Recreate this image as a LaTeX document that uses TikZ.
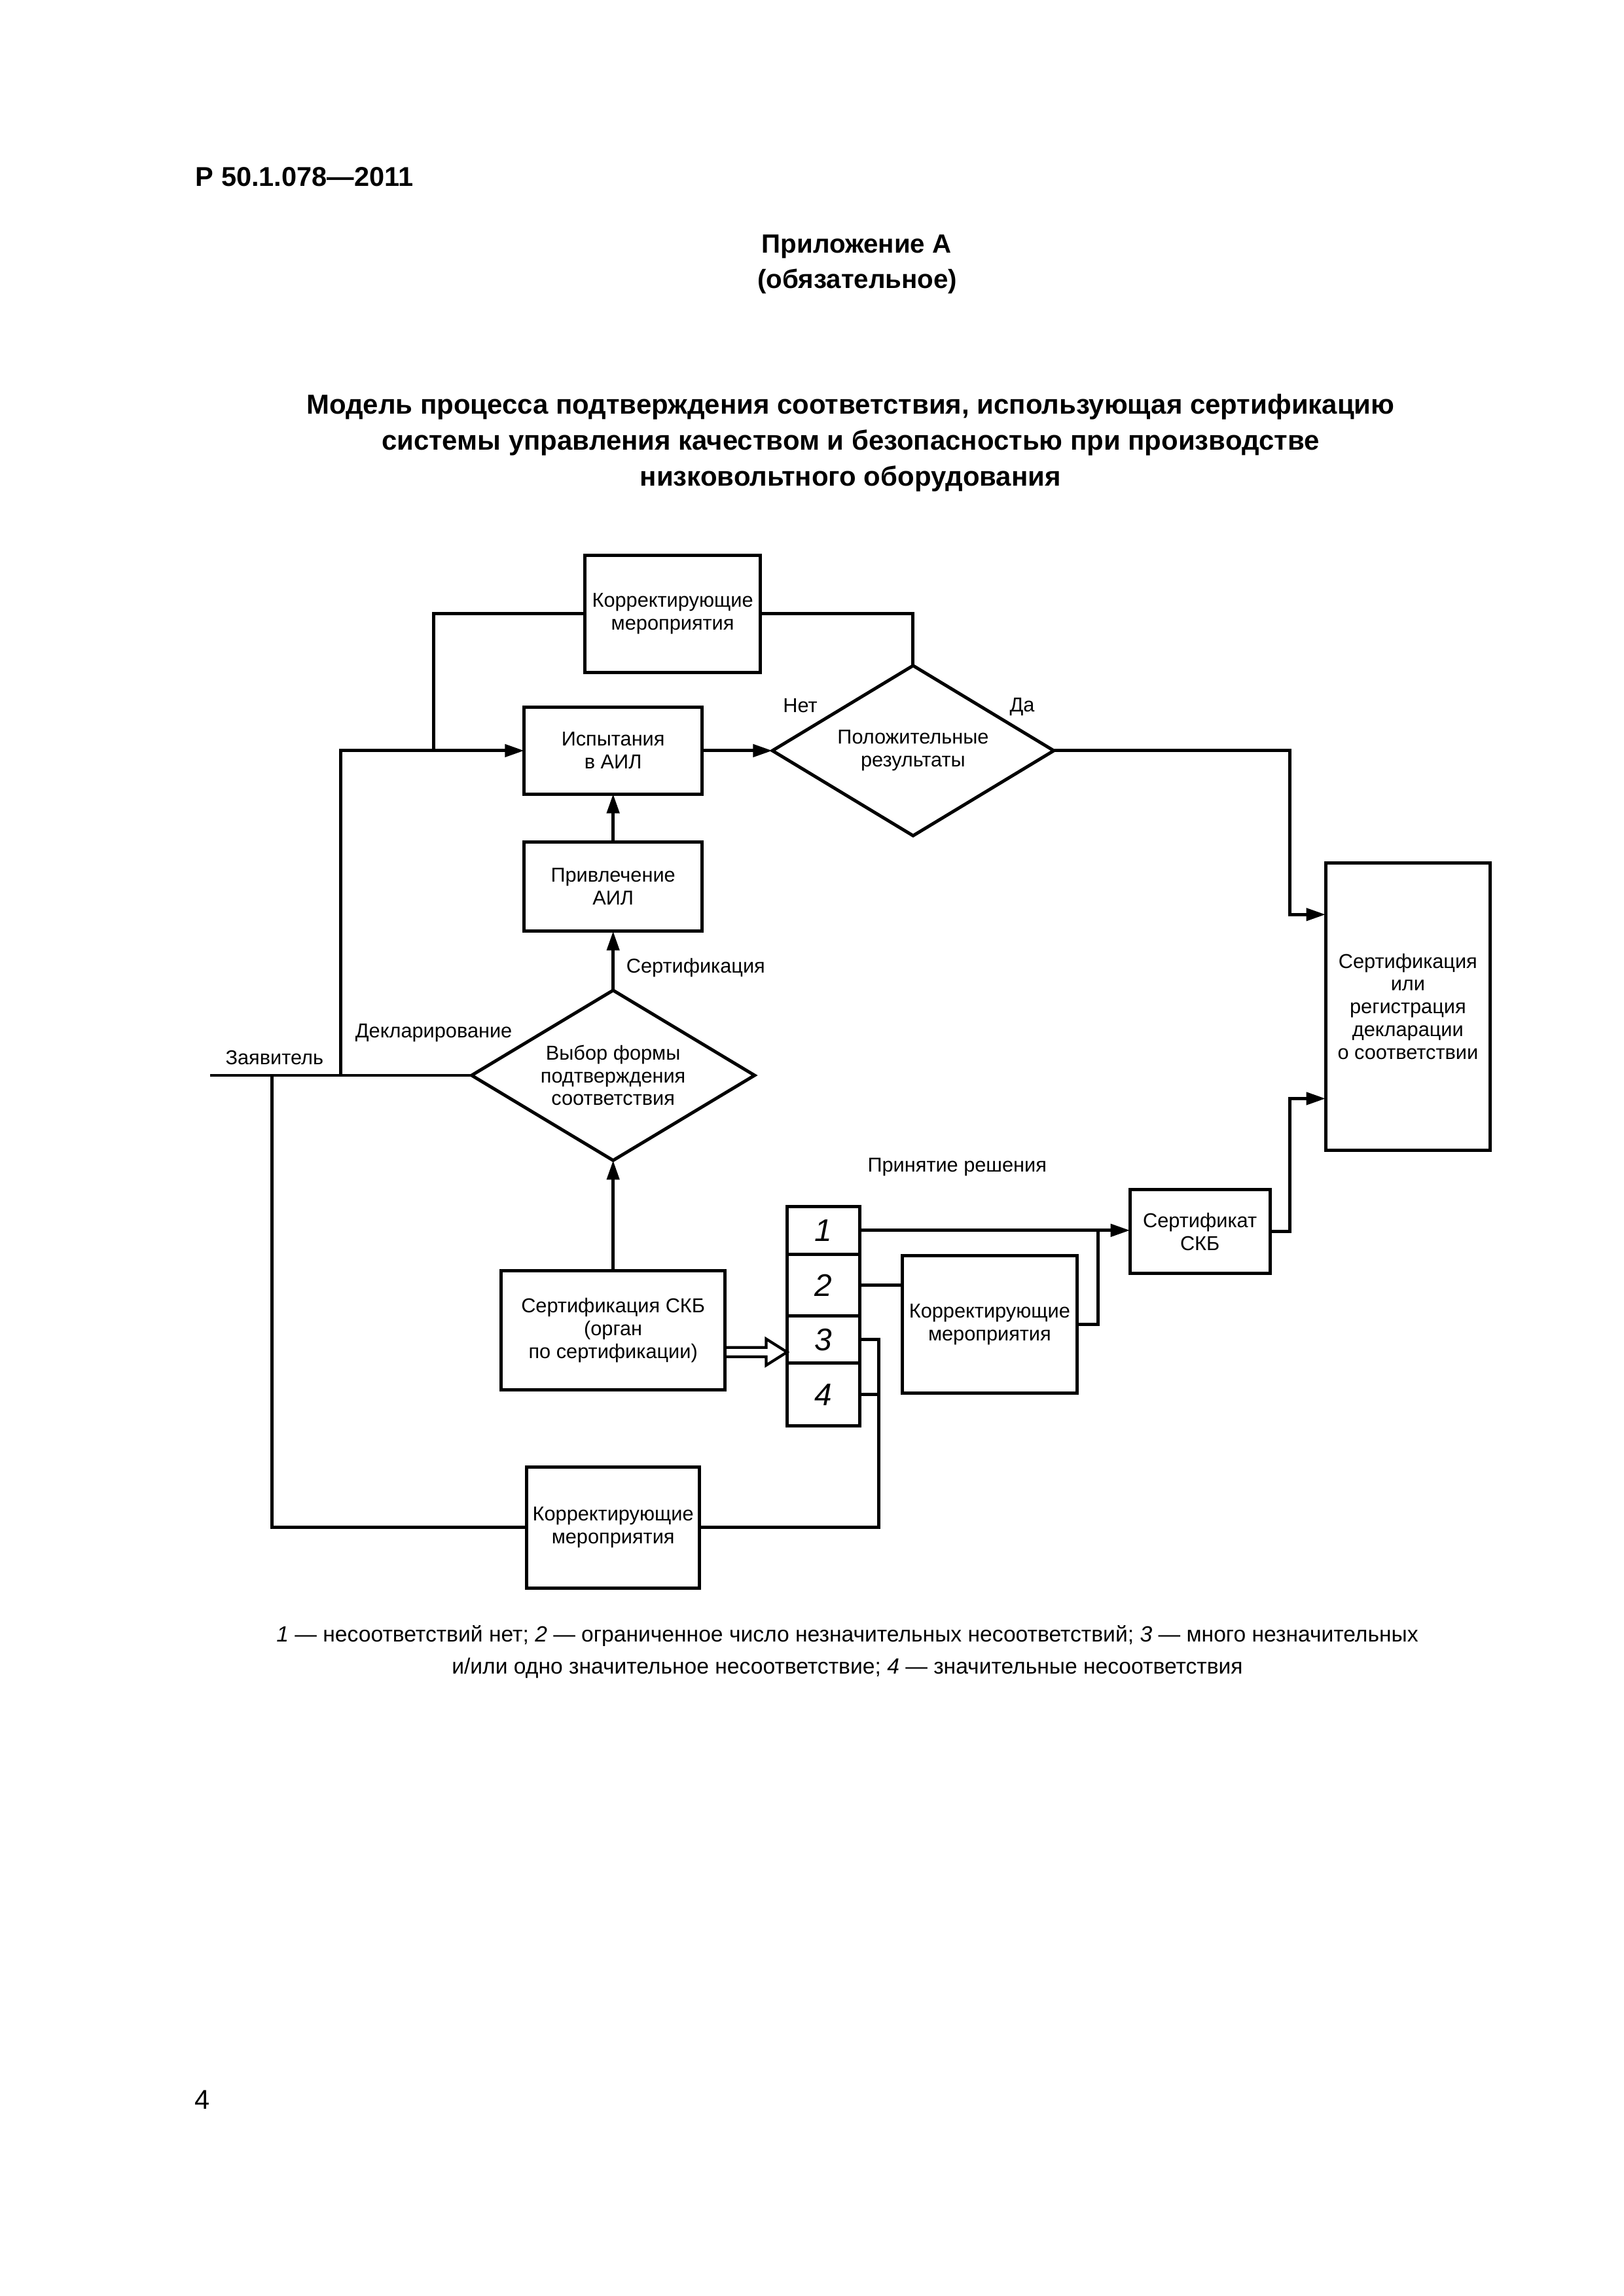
\documentclass[tikz,border=0pt]{standalone}
\usepackage{fontspec}
\setmainfont{Liberation Sans}
\usepackage{tikz}
\usetikzlibrary{calc, arrows.meta, shapes.geometric, positioning}

\tikzset{
    block/.style={rectangle, draw=black, inner sep=0pt, outer sep=0pt, align=center, font=\fontsize{7.4}{8.4}\selectfont},
    decision/.style={diamond, draw=black, inner sep=0pt, outer sep=0pt, aspect=1.65, minimum width=3.64cm, minimum height=2.2cm, align=center, font=\fontsize{7.4}{8.4}\selectfont},
    cell/.style={rectangle, draw=black, inner sep=0pt, outer sep=0pt, minimum width=0.94cm, font=\fontsize{11.5}{12}\selectfont\itshape},
    lbl/.style={inner sep=0pt, font=\fontsize{7.4}{8.4}\selectfont},
    arr/.style={-{Triangle[length=2.5mm, width=1.6mm]}},
}

\begin{document}
\begin{tikzpicture}[line width=0.42mm]

        \useasboundingbox (0,0) rectangle (21,-29.7);

        %% Page header
        \node (code) [anchor=base west, inner sep=0pt, font=\fontsize{10}{12}\selectfont\bfseries] at (2.51,-2.41) {Р 50.1.078—2011};
        \node (annex) [inner sep=0pt, font=\fontsize{9.7}{12}\selectfont\bfseries] at (11.08,-3.19) {Приложение А};
        \node (status) [inner sep=0pt, font=\fontsize{9.7}{12}\selectfont\bfseries] at (11.09,-3.64) {(обязательное)};
        \node (title) [align=center, inner sep=0pt, font=\fontsize{10.1}{13.3}\selectfont\bfseries] at (11.0,-5.73) {Модель процесса подтверждения соответствия, использующая сертификацию\\ системы управления качеством и безопасностью при производстве\\ низковольтного оборудования};

        %% Upper part
        \node (korrA) [block, minimum width=2.27cm, minimum height=1.52cm] at (8.70,-7.94) {Корректирующие\\мероприятия};
        \node (isp) [block, minimum width=2.30cm, minimum height=1.12cm] at (7.93,-9.71) {Испытания\\в АИЛ};
        \node (pos) [decision] at (11.81,-9.71) {Положительные\\результаты};
        \node (priv) [block, minimum width=2.30cm, minimum height=1.15cm] at (7.93,-11.47) {Привлечение\\АИЛ};
        \node (vybor) [decision, minimum width=3.66cm] at (7.93,-13.91) {Выбор формы\\подтверждения\\соответствия};
        \node (big) [block, minimum width=2.13cm, minimum height=3.72cm] at (18.21,-13.02) {Сертификация\\или\\регистрация\\декларации\\о соответствии};

        %% Lower part
        \node (skb) [block, minimum width=2.90cm, minimum height=1.54cm] at (7.93,-17.21) {Сертификация СКБ\\(орган\\по сертификации)};
        \node (c1) [cell, minimum height=0.62cm] at (10.65,-15.915) {1};
        \node (c2) [cell, minimum height=0.80cm, below=0pt of c1] {2};
        \node (c3) [cell, minimum height=0.61cm, below=0pt of c2] {3};
        \node (c4) [cell, minimum height=0.81cm, below=0pt of c3] {4};
        \node (korrB) [block, minimum width=2.26cm, minimum height=1.78cm] at (12.80,-17.13) {Корректирующие\\мероприятия};
        \node (sert) [block, minimum width=1.81cm, minimum height=1.09cm] at (15.52,-15.93) {Сертификат\\СКБ};
        \node (korrC) [block, minimum width=2.24cm, minimum height=1.56cm] at (7.93,-19.76) {Корректирующие\\мероприятия};

        %% Labels
        \node (no) [lbl] at (10.35,-9.13) {Нет};
        \node (yes) [lbl] at (13.22,-9.14) {Да};
        \node (certlbl) [lbl, anchor=west] at (8.08,-12.52) {Сертификация};
        \node (decllbl) [lbl] at (5.61,-13.36) {Декларирование};
        \node (appllbl) [lbl] at (3.55,-13.68) {Заявитель};
        \node (declsn) [lbl] at (12.38,-15.10) {Принятие решения};

        %% Helper points
        \coordinate (appl) at (2.72,-13.91);
        \coordinate (xin) at (4.41,0);
        \coordinate (xloop) at (5.61,0);
        \coordinate (xleft) at (3.52,0);
        \coordinate (xout) at (16.68,0);
        \coordinate (xmid) at (14.20,0);
        \coordinate (rv) at (11.37,0);
        \coordinate (bigA) at ($(big.north west)!0.18!(big.south west)$);
        \coordinate (bigB) at ($(big.north west)!0.82!(big.south west)$);
        \coordinate (dtip) at ($(skb.east -| c3.west)+(0,-0.28)$);

        %% Connectors
        \draw (appl) -- (vybor.west);
        \draw [arr] (vybor.west -| xin) |- (isp.west);
        \draw (korrA.west) -| (isp.west -| xloop);
        \draw (korrA.east) -| (pos.north);
        \draw [arr] (isp.east) -- (pos.west);
        \draw [arr] (pos.east) -| (xout |- bigA) -- (bigA);
        \draw [arr] (priv.north) -- (isp.south);
        \draw [arr] (vybor.north) -- (priv.south);
        \draw [arr] (skb.north) -- (vybor.south);
        \draw [arr] (c1.east) -- (c1.east -| sert.west);
        \draw (c2.east) -- (c2.east -| korrB.west);
        \draw (korrB.east) -| (xmid |- c1.east);
        \draw [arr] (sert.east) -| (xout |- bigB) -- (bigB);
        \draw (c3.east) -- (c3.east -| rv) |- (korrC.east);
        \draw (c4.east) -- (c4.east -| rv);
        \draw (korrC.west) -| (xleft |- vybor.west);

        %% Hollow arrow to the decision
        \draw [line width=0.36mm, line join=miter] ($(skb.east)+(0,-0.22)$) -- ($(dtip)+(-0.27,0.06)$) -- ($(dtip)+(-0.27,0.17)$) -- (dtip) -- ($(dtip)+(-0.27,-0.17)$) -- ($(dtip)+(-0.27,-0.06)$) -- ($(skb.east)+(0,-0.34)$);

        %% Legend and page number
        \node (legend) [align=center, inner sep=0pt, font=\fontsize{8.1}{11.8}\selectfont] at (10.96,-21.37) {\textit{1} — несоответствий нет; \textit{2} — ограниченное число незначительных несоответствий; \textit{3} — много незначительных\\ и/или одно значительное несоответствие; \textit{4} — значительные несоответствия};
        \node (page) [anchor=base west, inner sep=0pt, font=\fontsize{10}{12}\selectfont] at (2.50,-27.28) {4};

\end{tikzpicture}
\end{document}
